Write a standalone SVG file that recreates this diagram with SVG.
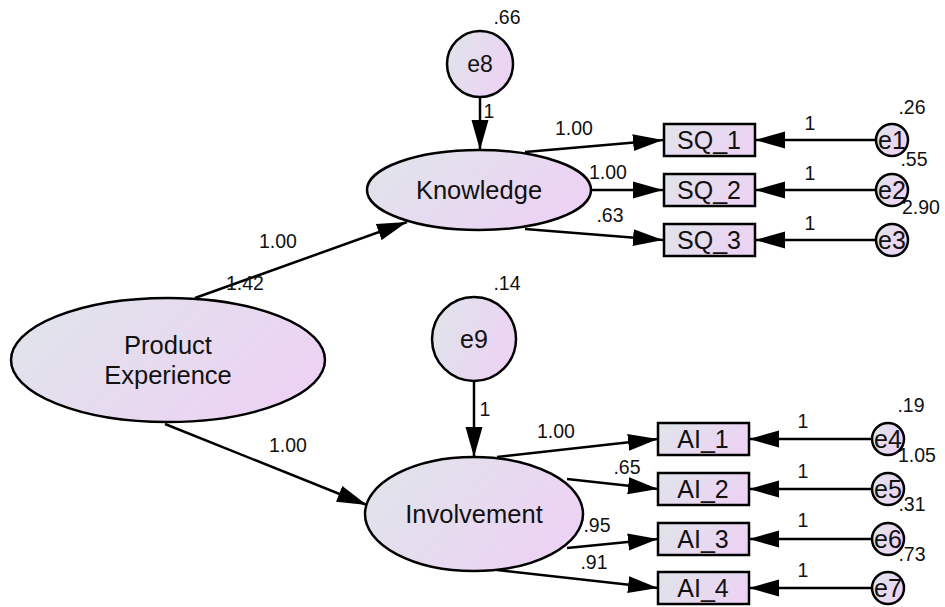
<svg xmlns="http://www.w3.org/2000/svg" width="945" height="607" viewBox="0 0 945 607">
<style>
  .shape { fill: url(#grad); stroke: #000; stroke-width: 2.5; }
  .conn { stroke: #000; stroke-width: 2.5; fill: none; marker-end: url(#arr); }
  .lbl { font-family: "Liberation Sans", Arial, sans-serif; font-size: 19.5px; fill: #111; text-anchor: middle; }
  .name { font-family: "Liberation Sans", Arial, sans-serif; font-size: 25.5px; fill: #111; text-anchor: middle; }
  .ind { font-family: "Liberation Sans", Arial, sans-serif; font-size: 25px; fill: #111; text-anchor: middle; }
</style>
<defs>
  <linearGradient id="grad" x1="0" y1="0" x2="1" y2="0.4">
    <stop offset="0" stop-color="#dfe5ea"/>
    <stop offset="1" stop-color="#ecd3f3"/>
  </linearGradient>
  <marker id="arr" markerUnits="userSpaceOnUse" markerWidth="31" markerHeight="18" refX="30" refY="9" orient="auto">
    <path d="M0,0.5 L30,9 L0,17.5 z" fill="#000"/>
  </marker>
</defs>
<rect width="945" height="607" fill="#fff"/>

<g id="connectors">
  <line class="conn" x1="195" y1="298" x2="407" y2="222"/>
  <line class="conn" x1="165" y1="424" x2="367" y2="505"/>
  <line class="conn" x1="480" y1="97" x2="480" y2="150"/>
  <line class="conn" x1="474" y1="381" x2="474" y2="457"/>
  <line class="conn" x1="525" y1="152" x2="663" y2="140"/>
  <line class="conn" x1="590" y1="190" x2="663" y2="190"/>
  <line class="conn" x1="525" y1="229" x2="663" y2="240"/>
  <line class="conn" x1="876" y1="140" x2="755" y2="140"/>
  <line class="conn" x1="876" y1="190" x2="755" y2="190"/>
  <line class="conn" x1="876" y1="240" x2="755" y2="240"/>
  <line class="conn" x1="497" y1="457" x2="658" y2="439"/>
  <line class="conn" x1="567" y1="479" x2="658" y2="489"/>
  <line class="conn" x1="567" y1="548" x2="658" y2="539"/>
  <line class="conn" x1="497" y1="570" x2="658" y2="588"/>
  <line class="conn" x1="872" y1="439" x2="749" y2="439"/>
  <line class="conn" x1="872" y1="489" x2="749" y2="489"/>
  <line class="conn" x1="872" y1="539" x2="749" y2="539"/>
  <line class="conn" x1="872" y1="588" x2="749" y2="588"/>
</g>

<g id="labels">
  <text class="lbl" x="507" y="24">.66</text>
  <text class="lbl" x="489" y="118">1</text>
  <text class="lbl" x="574" y="135">1.00</text>
  <text class="lbl" x="608" y="179">1.00</text>
  <text class="lbl" x="610" y="222">.63</text>
  <text class="lbl" x="810" y="130">1</text>
  <text class="lbl" x="810" y="180">1</text>
  <text class="lbl" x="810" y="230">1</text>
  <text class="lbl" x="912" y="114">.26</text>
  <text class="lbl" x="914" y="166">.55</text>
  <text class="lbl" x="921" y="214">2.90</text>
  <text class="lbl" x="278" y="248">1.00</text>
  <text class="lbl" x="245" y="290">1.42</text>
  <text class="lbl" x="507" y="290">.14</text>
  <text class="lbl" x="485" y="416">1</text>
  <text class="lbl" x="288" y="452">1.00</text>
  <text class="lbl" x="556" y="438">1.00</text>
  <text class="lbl" x="627" y="474">.65</text>
  <text class="lbl" x="597" y="532">.95</text>
  <text class="lbl" x="594" y="569">.91</text>
  <text class="lbl" x="803" y="428">1</text>
  <text class="lbl" x="803" y="478">1</text>
  <text class="lbl" x="803" y="527">1</text>
  <text class="lbl" x="803" y="577">1</text>
  <text class="lbl" x="911" y="412">.19</text>
  <text class="lbl" x="917" y="462">1.05</text>
  <text class="lbl" x="912" y="511">.31</text>
  <text class="lbl" x="912" y="561">.73</text>
</g>

<g id="ProductExperience">
  <ellipse class="shape" cx="168" cy="360" rx="157" ry="62"/>
  <text class="name" x="168" y="354">Product</text>
  <text class="name" x="168" y="384">Experience</text>
</g>
<g id="Knowledge">
  <ellipse class="shape" cx="479" cy="190" rx="112" ry="40"/>
  <text class="name" x="479" y="199">Knowledge</text>
</g>
<g id="Involvement">
  <ellipse class="shape" cx="474" cy="514" rx="109" ry="57"/>
  <text class="name" x="474" y="523">Involvement</text>
</g>
<g id="e8">
  <circle class="shape" cx="480" cy="64" r="33"/>
  <text class="ind" x="480" y="72" style="font-size:23px">e8</text>
</g>
<g id="e9">
  <circle class="shape" cx="474" cy="339" r="42"/>
  <text class="ind" x="474" y="348">e9</text>
</g>
<g id="SQ_1">
  <rect class="shape" x="664" y="124" width="91" height="32"/>
  <text class="ind" x="709" y="149">SQ_1</text>
</g>
<g id="SQ_2">
  <rect class="shape" x="664" y="174" width="91" height="32"/>
  <text class="ind" x="709" y="199">SQ_2</text>
</g>
<g id="SQ_3">
  <rect class="shape" x="664" y="224" width="91" height="32"/>
  <text class="ind" x="709" y="249">SQ_3</text>
</g>
<g id="AI_1">
  <rect class="shape" x="658" y="423" width="91" height="32"/>
  <text class="ind" x="703" y="448">AI_1</text>
</g>
<g id="AI_2">
  <rect class="shape" x="658" y="473" width="91" height="32"/>
  <text class="ind" x="703" y="498">AI_2</text>
</g>
<g id="AI_3">
  <rect class="shape" x="658" y="523" width="91" height="32"/>
  <text class="ind" x="703" y="548">AI_3</text>
</g>
<g id="AI_4">
  <rect class="shape" x="658" y="572" width="91" height="32"/>
  <text class="ind" x="703" y="597">AI_4</text>
</g>
<g id="e1">
  <circle class="shape" cx="892" cy="140" r="16"/>
  <text class="ind" x="892" y="149">e1</text>
</g>
<g id="e2">
  <circle class="shape" cx="892" cy="190" r="16"/>
  <text class="ind" x="892" y="199">e2</text>
</g>
<g id="e3">
  <circle class="shape" cx="892" cy="240" r="16"/>
  <text class="ind" x="892" y="249">e3</text>
</g>
<g id="e4">
  <circle class="shape" cx="888" cy="439" r="16"/>
  <text class="ind" x="888" y="448">e4</text>
</g>
<g id="e5">
  <circle class="shape" cx="888" cy="489" r="16"/>
  <text class="ind" x="888" y="498">e5</text>
</g>
<g id="e6">
  <circle class="shape" cx="888" cy="539" r="16"/>
  <text class="ind" x="888" y="548">e6</text>
</g>
<g id="e7">
  <circle class="shape" cx="888" cy="588" r="16"/>
  <text class="ind" x="888" y="597">e7</text>
</g>
</svg>
